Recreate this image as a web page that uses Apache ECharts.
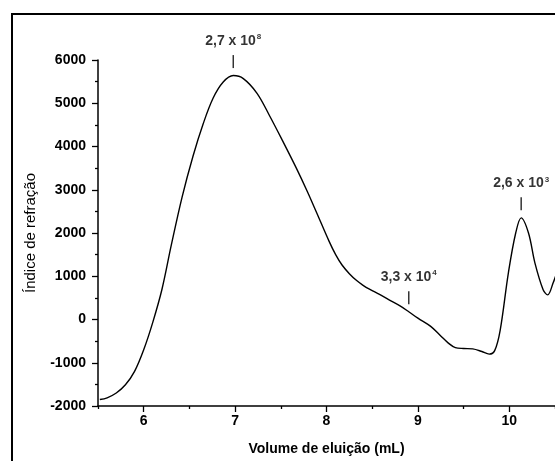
<!DOCTYPE html>
<html>
<head>
<meta charset="utf-8">
<script src="https://cdn.jsdelivr.net/npm/echarts@6/dist/echarts.min.js"></script>
<style>
  html, body { margin: 0; padding: 0; background: #ffffff; }
  #chart { width: 555px; height: 461px; }
</style>
</head>
<body>
<div id="chart"></div>
<script>
// Elution volume (mL) and refractive-index detector response
const volume = [
  5.52, 5.60, 5.70, 5.80, 5.90, 6.00, 6.10, 6.20, 6.30, 6.42,
  6.54, 6.65, 6.76, 6.87, 6.98, 7.09, 7.24, 7.38, 7.52, 7.67,
  7.79, 7.89, 8.03, 8.10, 8.17, 8.25, 8.33, 8.40, 8.47, 8.58,
  8.68, 8.80, 8.90, 9.00, 9.14, 9.25, 9.33, 9.41, 9.50, 9.60,
  9.70, 9.78, 9.84, 9.90, 9.99, 10.07, 10.13, 10.21, 10.28, 10.37,
  10.42, 10.48, 10.53
];
const refIndex = [
  -1850, -1810, -1700, -1510, -1200, -700, -60, 700, 1700, 2830,
  3780, 4520, 5120, 5490, 5640, 5570, 5230, 4700, 4130, 3500,
  2960, 2480, 1800, 1500, 1260, 1060, 900, 790, 700, 580,
  460, 320, 180, 30, -160, -380, -540, -650, -670, -680,
  -740, -800, -720, -250, 1080, 2000, 2350, 2000, 1310, 690,
  570, 850, 1150
];

// Molar-mass annotations placed over the curve
const peakVolume = [6.98, 8.90, 10.13];
const peakMantissa = ['2,7 x 10', '3,3 x 10', '2,6 x 10'];
const peakExponent = ['8', '4', '3'];

// Axis ticks
const xMajorTicks = [6, 7, 8, 9, 10];
const xMinorTicks = [5.5, 6.5, 7.5, 8.5, 9.5, 10.5];

const peakValue = peakVolume.map(v => refIndex[volume.indexOf(v)]);

const FONT = '"Liberation Sans", Arial, sans-serif';
const INK = '#000000';

const chart = echarts.init(document.getElementById('chart'), null, { renderer: 'canvas' });

chart.setOption({
  backgroundColor: '#ffffff',
  animation: false,
  textStyle: { fontFamily: FONT, color: INK },
  graphic: [{
    type: 'rect',
    silent: true,
    shape: { x: 12, y: 14, width: 700, height: 600 },
    style: { fill: 'none', stroke: INK, lineWidth: 2 },
    z: 10
  }],
  grid: { left: 98, top: 60, width: 459, height: 347 },
  xAxis: [{
    type: 'value',
    min: 5.5,
    max: 10.5,
    name: 'Volume de eluição (mL)',
    nameLocation: 'middle',
    nameGap: 36,
    nameTextStyle: { fontFamily: FONT, fontSize: 14, fontWeight: 'bold', color: INK },
    axisLine: { show: true, onZero: false, lineStyle: { color: INK, width: 1.5 } },
    axisTick: { show: true, length: 6, customValues: xMajorTicks, lineStyle: { color: INK, width: 1.3 } },
    axisLabel: { show: true, margin: 8, customValues: xMajorTicks, fontFamily: FONT, fontSize: 14, fontWeight: 'bold', color: INK },
    splitLine: { show: false }
  }, {
    type: 'value',
    min: 5.5,
    max: 10.5,
    position: 'bottom',
    axisLine: { show: false, onZero: false },
    axisTick: { show: true, length: 3, customValues: xMinorTicks, lineStyle: { color: INK, width: 1.3 } },
    axisLabel: { show: false },
    splitLine: { show: false }
  }],
  yAxis: {
    type: 'value',
    min: -2000,
    max: 6000,
    interval: 1000,
    name: 'Índice de refração',
    nameLocation: 'middle',
    nameGap: 60,
    nameTextStyle: { fontFamily: FONT, fontSize: 15, color: INK },
    axisLine: { show: true, onZero: false, lineStyle: { color: INK, width: 1.5 } },
    axisTick: { show: true, length: 6, lineStyle: { color: INK, width: 1.3 } },
    minorTick: { show: true, splitNumber: 2, length: 3, lineStyle: { color: INK, width: 1.3 } },
    axisLabel: {
      margin: 12, fontFamily: FONT, fontSize: 14, fontWeight: 'bold', color: INK,
      formatter: v => String(v)
    },
    splitLine: { show: false },
    minorSplitLine: { show: false }
  },
  series: [{
    type: 'line',
    data: volume.map((v, i) => [v, refIndex[i]]),
    showSymbol: false,
    smooth: 0.35,
    clip: true,
    lineStyle: { color: INK, width: 1.4 },
    z: 3
  }, {
    type: 'scatter',
    data: peakVolume.map((v, i) => ({
      value: [v, peakValue[i]],
      label: { formatter: '{m|' + peakMantissa[i] + '}{e|' + peakExponent[i] + '}' }
    })),
    symbol: 'rect',
    symbolSize: [1.5, 13],
    symbolOffset: [0, -14],
    itemStyle: { color: INK },
    label: {
      show: true,
      position: 'top',
      distance: 6,
      rich: {
        m: { fontFamily: FONT, fontSize: 14, fontWeight: 'bold', color: INK, lineHeight: 16 },
        e: { fontFamily: FONT, fontSize: 8, fontWeight: 'bold', color: INK, verticalAlign: 'top', lineHeight: 16, padding: [0, 0, 7, 1] }
      }
    },
    z: 5
  }]
});
</script>
</body>
</html>
